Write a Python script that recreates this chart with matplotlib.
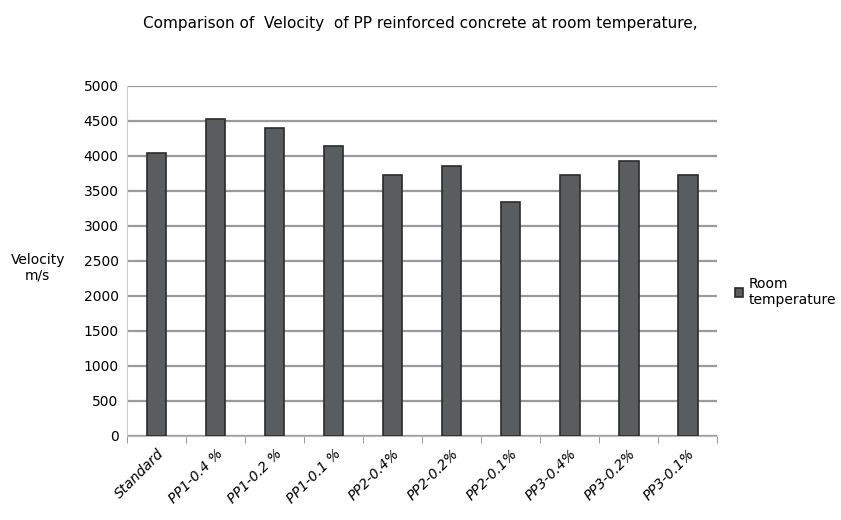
import matplotlib.pyplot as plt
import numpy as np

categories = ['Standard', 'PP1-0.4 %', 'PP1-0.2 %', 'PP1-0.1 %', 'PP2-0.4%',
              'PP2-0.2%', 'PP2-0.1%', 'PP3-0.4%', 'PP3-0.2%', 'PP3-0.1%']
velocity = [4040, 4520, 4400, 4140, 3720, 3860, 3340, 3720, 3920, 3720]
y_ticks = [0, 500, 1000, 1500, 2000, 2500, 3000, 3500, 4000, 4500, 5000]

plt.rcParams['font.family'] = ['DejaVu Sans']

fig = plt.figure(figsize=(8.41, 5.2), dpi=100)
ax = fig.add_axes([0.151, 0.162, 0.702, 0.673])

x = np.arange(len(categories))
ax.bar(x, velocity, width=0.33, color='#5b5c5e', edgecolor='#2b2b2b',
       linewidth=1.2, label='Room\ntemperature', zorder=3)

ax.set_ylim(0, 5000)
ax.set_xlim(-0.5, len(categories) - 0.5)
ax.set_yticks(y_ticks)
ax.set_yticklabels([str(v) for v in y_ticks], fontsize=10)
ax.yaxis.grid(True, color='#9a9a9a', linewidth=1.6, zorder=0)
ax.tick_params(axis='y', length=0, pad=6)

ax.set_xticks(x)
ax.set_xticklabels(categories, rotation=45, ha='right', rotation_mode='anchor',
                   fontsize=10, style='italic')
ax.set_xticks(np.arange(-0.5, len(categories)), minor=True)
ax.tick_params(axis='x', which='major', length=0, pad=8)
ax.tick_params(axis='x', which='minor', length=5, color='#888888')

for side in ['top', 'right']:
    ax.spines[side].set_visible(False)
ax.spines['left'].set_color('#cccccc')
ax.spines['bottom'].set_color('#bbbbbb')

fig.text(0.5, 0.955, 'Comparison of  Velocity  of PP reinforced concrete at room temperature,',
         ha='center', va='center', fontsize=11)
fig.text(0.045, 0.485, 'Velocity\nm/s', ha='center', va='center', fontsize=10)

ax.legend(loc='center left', bbox_to_anchor=(1.015, 0.41), frameon=False,
          fontsize=10, handlelength=0.6, handleheight=0.6, handletextpad=0.4,
          borderaxespad=0.2)

fig.savefig('out.png', dpi=100)
